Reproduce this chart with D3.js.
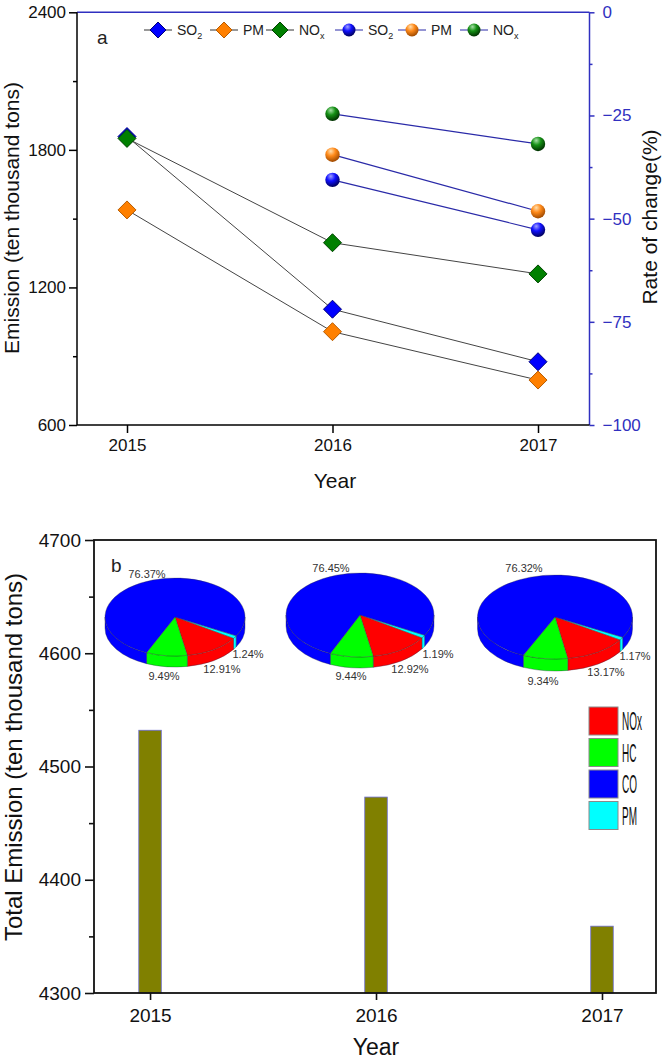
<!DOCTYPE html>
<html><head><meta charset="utf-8">
<script src="https://cdn.jsdelivr.net/npm/d3@7/dist/d3.min.js"></script>
<style>
html,body{margin:0;padding:0;background:#fff;}
svg{display:block;font-family:"Liberation Sans",Arial,Helvetica,sans-serif;}
</style></head>
<body>
<svg id="chart" width="663" height="1060"></svg>
<script>
// ---------- data ----------
const years = [2015, 2016, 2017];
const emSO2 = [1858, 1105, 876];
const emPM = [1538, 1007, 796];
const emNOx = [1850, 1395, 1259];
const rateYears = [2016, 2017];
const rateSO2 = [-40.6, -52.7];
const ratePM = [-34.5, -48.2];
const rateNOx = [-24.6, -31.9];
const leftTicks = [600, 1200, 1800, 2400];
const leftMinor = [900, 1500, 2100];
const rightTicks = [-100, -75, -50, -25, 0];
const rightMinor = [-87.5, -62.5, -37.5, -12.5];
const legendA = ["SO2", "PM", "NOx", "SO2", "PM", "NOx"];

const totalEmission = [4532, 4473, 4359];
const bottomTicks = [4300, 4400, 4500, 4600, 4700];
const bottomMinor = [4350, 4450, 4550, 4650];
const pieSpecies = ["NOx", "HC", "CO", "PM"];
const share2015 = [12.91, 9.49, 76.37, 1.24];
const share2016 = [12.92, 9.44, 76.45, 1.19];
const share2017 = [13.17, 9.34, 76.32, 1.17];

// ---------- styles ----------
const AX_BLUE = "#3030c0";
const speciesColor = {NOx: "#ff0000", HC: "#00ff00", CO: "#0000ff", PM: "#00ffff"};
const diamondFill = {SO2: "#0000ff", PM: "#ff8000", NOx: "#008000"};
const diamondStroke = {SO2: "#00007a", PM: "#b85c00", NOx: "#004400"};

const svg = d3.select("#chart");
const defs = svg.append("defs");
const grads = {SO2: ["#a0a0ff", "#1010ff", "#00005a"], PM: ["#ffe0b0", "#ff8a1a", "#a04a00"], NOx: ["#a8e0a8", "#159015", "#003000"]};
Object.entries(grads).forEach(([k, c]) => {
  const g = defs.append("radialGradient").attr("id", "g" + k).attr("cx", "40%").attr("cy", "30%").attr("r", "70%").attr("fx", "38%").attr("fy", "25%");
  g.append("stop").attr("offset", "0%").attr("stop-color", c[0]);
  g.append("stop").attr("offset", "45%").attr("stop-color", c[1]);
  g.append("stop").attr("offset", "100%").attr("stop-color", c[2]);
});

// =============== TOP CHART (a) =================
const x = d3.scaleLinear().domain([2014.7567, 2017.2506]).range([77, 589.5]);
const yL = d3.scaleLinear().domain([600, 2400]).range([425, 12.3]);
const yR = d3.scaleLinear().domain([-100, 0]).range([425, 12.3]);

const gTop = svg.append("g");
gTop.append("line").attr("x1", x.range()[0]).attr("x2", x.range()[1]).attr("y1", yL(2400)).attr("y2", yL(2400))
  .attr("stroke", AX_BLUE).attr("stroke-width", 1.5);

const axL = gTop.append("g").attr("transform", `translate(${x.range()[0]},0)`)
  .call(d3.axisLeft(yL).tickValues(leftTicks).tickSize(8).tickPadding(3).tickFormat(d3.format("d")));
const axL2 = gTop.append("g").attr("transform", `translate(${x.range()[0]},0)`)
  .call(d3.axisLeft(yL).tickValues(leftMinor).tickSize(4).tickFormat(""));
const axR = gTop.append("g").attr("transform", `translate(${x.range()[1]},0)`)
  .call(d3.axisRight(yR).tickValues(rightTicks).tickSize(5).tickPadding(8).tickFormat(d3.format("d")));
const axR2 = gTop.append("g").attr("transform", `translate(${x.range()[1]},0)`)
  .call(d3.axisRight(yR).tickValues(rightMinor).tickSize(3).tickFormat(""));
const axB = gTop.append("g").attr("transform", `translate(0,${yL(600)})`)
  .call(d3.axisBottom(x).tickValues(years).tickSize(8).tickPadding(6).tickFormat(d3.format("d")));

[axL, axL2, axB].forEach(a => { a.selectAll("path,line").attr("stroke", "#000").attr("stroke-width", 1.5); a.selectAll("text").attr("font-size", 17).attr("fill", "#111").attr("font-family", null); });
[axR, axR2].forEach(a => { a.selectAll("path,line").attr("stroke", AX_BLUE).attr("stroke-width", 1.5); a.selectAll("text").attr("font-size", 17).attr("fill", AX_BLUE).attr("font-family", null); });
[axL, axL2, axR, axR2, axB].forEach(a => a.selectAll("path.domain").attr("d", null));
axL.select("path.domain").attr("d", `M0,${yL(600)}V${yL(2400)}`);
axR.select("path.domain").attr("d", `M0,${yR(-100)}V${yR(0)}`);
axB.select("path.domain").attr("d", `M${x.range()[0]},0H${x.range()[1]}`);

// axis titles
gTop.append("text").attr("transform", `translate(19,218) rotate(-90)`).attr("text-anchor", "middle")
  .attr("font-size", 21).attr("fill", "#111").text("Emission (ten thousand tons)");
gTop.append("text").attr("transform", `translate(657,217) rotate(-90)`).attr("text-anchor", "middle")
  .attr("font-size", 21).attr("fill", "#111").text("Rate of change(%)");
gTop.append("text").attr("x", 335).attr("y", 488).attr("text-anchor", "middle")
  .attr("font-size", 21).attr("fill", "#111").text("Year");
gTop.append("text").attr("x", 97).attr("y", 44).attr("font-size", 19).attr("fill", "#222").text("a");

// lines
const lineE = d3.line().x((d, i) => x(years[i])).y(d => yL(d));
[emSO2, emPM, emNOx].forEach(s => {
  gTop.append("path").attr("d", lineE(s)).attr("fill", "none").attr("stroke", "#444").attr("stroke-width", 1);
});
const lineR = d3.line().x((d, i) => x(rateYears[i])).y(d => yR(d));
[rateSO2, ratePM, rateNOx].forEach(s => {
  gTop.append("path").attr("d", lineR(s)).attr("fill", "none").attr("stroke", "#2a2aa8").attr("stroke-width", 1.2);
});

const diamond = (cx, cy, r) => `M${cx},${cy - r}L${cx + r},${cy}L${cx},${cy + r}L${cx - r},${cy}Z`;
[["PM", emPM], ["SO2", emSO2], ["NOx", emNOx]].forEach(([k, s]) => {
  s.forEach((v, i) => {
    gTop.append("path").attr("d", diamond(x(years[i]), yL(v), 9)).attr("fill", diamondFill[k]).attr("stroke", diamondStroke[k]).attr("stroke-width", 1);
  });
});
[["SO2", rateSO2], ["PM", ratePM], ["NOx", rateNOx]].forEach(([k, s]) => {
  s.forEach((v, i) => {
    gTop.append("circle").attr("cx", x(rateYears[i])).attr("cy", yR(v)).attr("r", 7.2).attr("fill", `url(#g${k})`);
  });
});

// legend a
const legX = [158, 224, 280, 349, 412, 474];
const legY = 30;
legendA.forEach((name, i) => {
  const cx = legX[i];
  const isCircle = i >= 3;
  gTop.append("line").attr("x1", cx - 14).attr("x2", cx + 14).attr("y1", legY).attr("y2", legY)
    .attr("stroke", isCircle ? "#2a2aa8" : "#333").attr("stroke-width", 1);
  if (isCircle) gTop.append("circle").attr("cx", cx).attr("cy", legY).attr("r", 6.5).attr("fill", `url(#g${name})`);
  else gTop.append("path").attr("d", diamond(cx, legY, 8)).attr("fill", diamondFill[name]).attr("stroke", diamondStroke[name]);
  const t = gTop.append("text").attr("x", cx + 19).attr("y", legY + 5).attr("font-size", 14).attr("fill", "#222");
  const base = name.slice(0, name.length - 1), sub = name.slice(-1);
  if (name === "PM") t.text("PM");
  else { t.append("tspan").text(base); t.append("tspan").attr("font-size", 9).attr("dy", 4).text(sub); }
});

// =============== BOTTOM CHART (b) =================
const xb = d3.scaleLinear().domain([2014.752, 2017.239]).range([94, 656]);
const yb = d3.scaleLinear().domain([4300, 4700]).range([993, 540]);
const bot = svg.append("g");

const barW = 22.5;
bot.selectAll("rect.bar").data(totalEmission).join("rect").attr("class", "bar")
  .attr("x", (d, i) => xb(years[i]) - barW / 2).attr("width", barW)
  .attr("y", d => yb(d)).attr("height", d => yb(4300) - yb(d))
  .attr("fill", "#808000").attr("stroke", "#6a6ad0").attr("stroke-width", 0.8);

bot.append("rect").attr("x", xb.range()[0]).attr("y", yb(4700)).attr("width", xb.range()[1] - xb.range()[0]).attr("height", yb(4300) - yb(4700))
  .attr("fill", "none").attr("stroke", "#111").attr("stroke-width", 1.8);
const bL = bot.append("g").attr("transform", `translate(${xb.range()[0]},0)`)
  .call(d3.axisLeft(yb).tickValues(bottomTicks).tickSize(9).tickPadding(4).tickFormat(d3.format("d")));
const bL2 = bot.append("g").attr("transform", `translate(${xb.range()[0]},0)`)
  .call(d3.axisLeft(yb).tickValues(bottomMinor).tickSize(5).tickFormat(""));
const bB = bot.append("g").attr("transform", `translate(0,${yb(4300)})`)
  .call(d3.axisBottom(xb).tickValues(years).tickSize(7).tickPadding(9).tickFormat(d3.format("d")));
[bL, bL2, bB].forEach(a => { a.selectAll("path.domain").remove(); a.selectAll("line").attr("stroke", "#111").attr("stroke-width", 1.6); a.selectAll("text").attr("font-size", 19).attr("fill", "#111").attr("font-family", null); });

bot.append("text").attr("transform", `translate(22,757) rotate(-90)`).attr("text-anchor", "middle")
  .attr("font-size", 24).attr("fill", "#111").text("Total Emission (ten thousand tons)");
bot.append("text").attr("x", 376).attr("y", 1055).attr("text-anchor", "middle")
  .attr("font-size", 23).attr("fill", "#111").text("Year");
bot.append("text").attr("x", 111).attr("y", 572).attr("font-size", 19).attr("fill", "#222").text("b");

// 3D pies
const pieGeo = [
  {cx: 175, cy: 617, rx: 70, ry: 39, h: 11, lab: [[47, 52], [-11, 59], [-28, -43], [73, 37]]},
  {cx: 360, cy: 615, rx: 74, ry: 42, h: 11, lab: [[50, 54], [-9, 61], [-29, -47], [78, 39]]},
  {cx: 555, cy: 617, rx: 77.5, ry: 42, h: 12, lab: [[51, 55], [-12, 64], [-31, -49], [80, 39]]}
];
const shares = [share2015, share2016, share2017];
const drawOrder = [3, 0, 1, 2];
const startDeg = 118.9;
shares.forEach((sh, pi) => {
  const g = pieGeo[pi];
  const arcs = d3.pie().sort(null).value(i => sh[i])
    .startAngle(startDeg * Math.PI / 180).endAngle(startDeg * Math.PI / 180 + 2 * Math.PI)(drawOrder);
  const P = (a, dy = 0) => [g.cx + g.rx * Math.sin(a), g.cy - g.ry * Math.cos(a) + dy];
  const pg = bot.append("g");
  arcs.forEach(a => {
    const sp = speciesColor[pieSpecies[a.data]];
    [[Math.PI / 2, 3 * Math.PI / 2], [Math.PI / 2 + 2 * Math.PI, 3 * Math.PI / 2 + 2 * Math.PI]].forEach(([w0, w1]) => {
      const s = Math.max(a.startAngle, w0), e = Math.min(a.endAngle, w1);
      if (e <= s) return;
      const p0 = P(s), p1 = P(e), q1 = P(e, g.h), q0 = P(s, g.h);
      const large = (e - s) > Math.PI ? 1 : 0;
      const d = `M${p0}A${g.rx},${g.ry} 0 ${large} 1 ${p1}L${q1}A${g.rx},${g.ry} 0 ${large} 0 ${q0}Z`;
      pg.append("path").attr("d", d).attr("fill", sp).attr("stroke", "#222244").attr("stroke-width", 0.5).attr("stroke-opacity", 0.7);
    });
  });
  arcs.forEach(a => {
    const sp = speciesColor[pieSpecies[a.data]];
    const p0 = P(a.startAngle), p1 = P(a.endAngle);
    const large = (a.endAngle - a.startAngle) > Math.PI ? 1 : 0;
    const d = `M${g.cx},${g.cy}L${p0}A${g.rx},${g.ry} 0 ${large} 1 ${p1}Z`;
    pg.append("path").attr("d", d).attr("fill", sp).attr("stroke", "#333").attr("stroke-width", 0.5).attr("stroke-opacity", 0.7);
  });
  pieSpecies.forEach((sp, i) => {
    pg.append("text").attr("x", g.cx + g.lab[i][0]).attr("y", g.cy + g.lab[i][1] + 4)
      .attr("text-anchor", "middle").attr("font-size", 11).attr("fill", "#333")
      .text(sh[i].toFixed(2) + "%");
  });
});

// legend b
const legB = bot.append("g");
const sqX = 589, sqY0 = 707, sqW = 29, sqH = 28, pitch = 31.5;
pieSpecies.forEach((sp, i) => {
  legB.append("rect").attr("x", sqX).attr("y", sqY0 + i * pitch).attr("width", sqW).attr("height", sqH)
    .attr("fill", speciesColor[sp]).attr("stroke", "#8a8a8a").attr("stroke-width", 1);
  legB.append("text").attr("transform", `translate(622,${sqY0 + i * pitch + sqH / 2 + 9}) scale(0.4,1)`)
    .attr("font-size", 25).attr("fill", "#111").text(sp);
});
</script>
</body></html>
